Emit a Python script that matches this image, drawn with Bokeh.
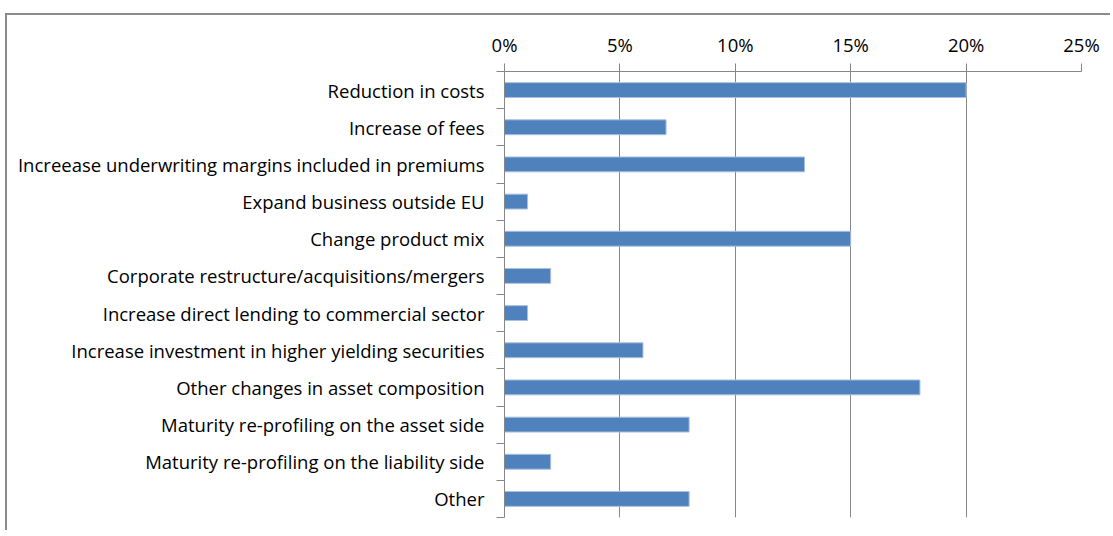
from bokeh.plotting import figure
from bokeh.models import (Range1d, LinearAxis, FixedTicker, NumeralTickFormatter,
                          ColumnDataSource)
from bokeh.embed import file_html
from bokeh.resources import INLINE

categories = [
    "Reduction in costs",
    "Increase of fees",
    "Increease underwriting margins included in premiums",
    "Expand business outside EU",
    "Change product mix",
    "Corporate restructure/acquisitions/mergers",
    "Increase direct lending to commercial sector",
    "Increase investment in higher yielding securities",
    "Other changes in asset composition",
    "Maturity re-profiling on the asset side",
    "Maturity re-profiling on the liability side",
    "Other",
]
values = [0.20, 0.07, 0.13, 0.01, 0.15, 0.02, 0.01, 0.06, 0.18, 0.08, 0.02, 0.08]
x_ticks = [0, 0.05, 0.10, 0.15, 0.20, 0.25]

FONT = "Open Sans"
FS = "18.5px"
GRAY = "#868686"

n = len(categories)
ypos = [n - i - 0.5 for i in range(n)]   # category slot centres, first on top

p = figure(width=1105, height=517,
           y_range=Range1d(0, n), x_range=Range1d(0, 0.25),
           output_backend="svg", toolbar_location=None,
           x_axis_location="above", y_axis_location=None,
           min_border_left=497, min_border_right=31,
           min_border_top=56, min_border_bottom=15)
p.styles = {"border-top": "2px solid #8a8a8a", "border-left": "2px solid #8a8a8a",
            "margin-top": "13px", "margin-left": "5px"}
p.outline_line_color = None

src = ColumnDataSource(dict(y=ypos, val=values, cat=categories))
p.hbar(y="y", left=0, right="val", height=0.4, source=src,
       fill_color="#4F81BD", line_color="#A9C0E0", line_width=1)

# x axis on top
xa = p.xaxis[0]
xa.ticker = FixedTicker(ticks=x_ticks)
xa.formatter = NumeralTickFormatter(format="0%")
xa.major_tick_out = 8
xa.major_tick_in = 0
xa.minor_tick_line_color = None
xa.axis_line_color = GRAY
xa.major_tick_line_color = GRAY
xa.major_label_text_font = FONT
xa.major_label_text_font_size = FS
xa.major_label_text_color = "#000000"
xa.major_label_standoff = 7

p.xgrid.ticker = FixedTicker(ticks=x_ticks)
p.xgrid.grid_line_color = GRAY
p.ygrid.grid_line_color = None

# y axis: boundary ticks + category labels
bounds = list(range(n + 1))
ya_ticks = LinearAxis(ticker=FixedTicker(ticks=bounds),
                      major_label_overrides={b: "" for b in bounds},
                      major_label_standoff=0, major_tick_out=8, major_tick_in=0,
                      minor_tick_line_color=None, axis_line_color=GRAY,
                      major_tick_line_color=GRAY)
ya_labels = LinearAxis(ticker=FixedTicker(ticks=ypos),
                       major_label_overrides={y: c for y, c in zip(ypos, categories)},
                       axis_line_color=None, major_tick_line_color=None,
                       minor_tick_line_color=None,
                       major_tick_out=0, major_tick_in=0,
                       major_label_standoff=12,
                       major_label_text_font=FONT,
                       major_label_text_font_size=FS,
                       major_label_text_color="#000000")
p.add_layout(ya_ticks, "left")
p.add_layout(ya_labels, "left")

open("out.html", "w").write(file_html(p, INLINE))
